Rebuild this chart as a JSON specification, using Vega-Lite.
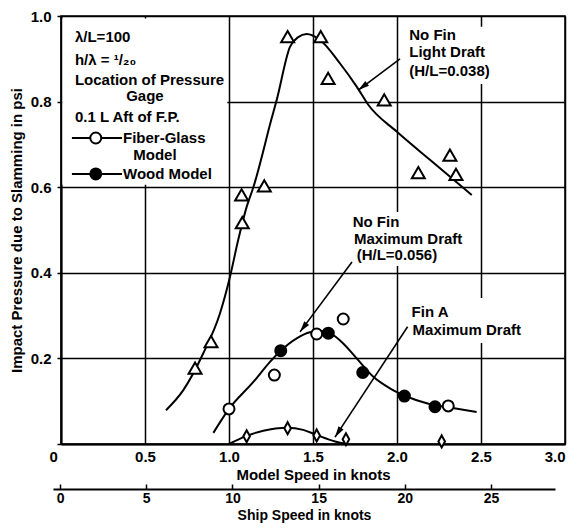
{
  "$schema": "https://vega.github.io/schema/vega-lite/v6.json",
  "width": 504,
  "height": 428,
  "autosize": "none",
  "padding": {"left": 61, "top": 16, "right": 14, "bottom": 85},
  "background": "white",
  "config": {
    "font": "Liberation Sans",
    "view": {"stroke": "black", "strokeWidth": 1.5},
    "axis": {
      "labelFont": "Liberation Sans",
      "labelFontSize": 15,
      "labelFontWeight": "bold",
      "labelColor": "black",
      "titleFont": "Liberation Sans",
      "titleFontSize": 15,
      "titleFontWeight": "bold",
      "titleColor": "black",
      "domainColor": "black",
      "tickColor": "black",
      "gridColor": "black",
      "gridOpacity": 1
    },
    "text": {"font": "Liberation Sans", "fontSize": 15, "fontWeight": "bold", "color": "black"}
  },
  "datasets": {
    "light_pts": [
      {"speed": 0.798, "psi": 0.177}, {"speed": 0.893, "psi": 0.239},
      {"speed": 1.075, "psi": 0.582}, {"speed": 1.079, "psi": 0.517},
      {"speed": 1.21, "psi": 0.603}, {"speed": 1.349, "psi": 0.952},
      {"speed": 1.546, "psi": 0.952}, {"speed": 1.59, "psi": 0.854},
      {"speed": 1.924, "psi": 0.804}, {"speed": 2.127, "psi": 0.634},
      {"speed": 2.315, "psi": 0.675}, {"speed": 2.351, "psi": 0.63}
    ],
    "light_curve": [
      {"speed": 0.625, "psi": 0.079}, {"speed": 0.728, "psi": 0.126},
      {"speed": 0.847, "psi": 0.212}, {"speed": 0.946, "psi": 0.305},
      {"speed": 1.006, "psi": 0.391}, {"speed": 1.055, "psi": 0.477},
      {"speed": 1.105, "psi": 0.554}, {"speed": 1.145, "psi": 0.6},
      {"speed": 1.254, "psi": 0.761}, {"speed": 1.284, "psi": 0.804},
      {"speed": 1.363, "psi": 0.928}, {"speed": 1.41, "psi": 0.95},
      {"speed": 1.462, "psi": 0.958}, {"speed": 1.542, "psi": 0.944},
      {"speed": 1.661, "psi": 0.889}, {"speed": 1.76, "psi": 0.835},
      {"speed": 1.83, "psi": 0.792}, {"speed": 1.998, "psi": 0.73},
      {"speed": 2.196, "psi": 0.664}, {"speed": 2.445, "psi": 0.582}
    ],
    "max_curve": [
      {"speed": 0.907, "psi": 0.026}, {"speed": 1.0, "psi": 0.082},
      {"speed": 1.145, "psi": 0.145}, {"speed": 1.244, "psi": 0.192},
      {"speed": 1.308, "psi": 0.218}, {"speed": 1.403, "psi": 0.247},
      {"speed": 1.482, "psi": 0.261}, {"speed": 1.55, "psi": 0.264},
      {"speed": 1.601, "psi": 0.259}, {"speed": 1.68, "psi": 0.235},
      {"speed": 1.76, "psi": 0.2}, {"speed": 1.859, "psi": 0.157},
      {"speed": 1.958, "psi": 0.13}, {"speed": 2.058, "psi": 0.111},
      {"speed": 2.177, "psi": 0.095}, {"speed": 2.305, "psi": 0.086},
      {"speed": 2.474, "psi": 0.075}
    ],
    "fiber": [
      {"speed": 1.0, "psi": 0.082}, {"speed": 1.27, "psi": 0.161},
      {"speed": 1.522, "psi": 0.257}, {"speed": 1.68, "psi": 0.292},
      {"speed": 2.305, "psi": 0.089}
    ],
    "wood": [
      {"speed": 1.308, "psi": 0.218}, {"speed": 1.591, "psi": 0.259},
      {"speed": 1.796, "psi": 0.167}, {"speed": 2.044, "psi": 0.112},
      {"speed": 2.226, "psi": 0.087}
    ],
    "fin_curve": [
      {"speed": 1.0, "psi": 0.0}, {"speed": 1.105, "psi": 0.019},
      {"speed": 1.204, "psi": 0.031}, {"speed": 1.343, "psi": 0.038},
      {"speed": 1.442, "psi": 0.033}, {"speed": 1.522, "psi": 0.021},
      {"speed": 1.631, "psi": 0.006}, {"speed": 1.7, "psi": 0.0}
    ],
    "fin_pts": [
      {"speed": 1.105, "psi": 0.018}, {"speed": 1.349, "psi": 0.037},
      {"speed": 1.522, "psi": 0.02}, {"speed": 1.696, "psi": 0.011},
      {"speed": 2.266, "psi": 0.006}
    ],
    "arrows": [
      {"id": "light", "x0": 2.018, "y0": 0.9, "x1": 1.77, "y1": 0.827},
      {"id": "max", "x0": 1.732, "y0": 0.425, "x1": 1.423, "y1": 0.262},
      {"id": "fin", "x0": 2.063, "y0": 0.274, "x1": 1.631, "y1": 0.016}
    ],
    "legend_keys": [
      {"kind": "Fiber-Glass Model", "x0": 0.065, "x1": 0.363, "mid": 0.207, "psi": 0.715},
      {"kind": "Wood Model", "x0": 0.065, "x1": 0.363, "mid": 0.207, "psi": 0.631}
    ],
    "boxes": [
      {"x0": 0.008, "x1": 0.99, "y0": 0.606, "y1": 0.994},
      {"x0": 2.05, "x1": 2.76, "y0": 0.841, "y1": 0.975},
      {"x0": 1.72, "x1": 2.446, "y0": 0.416, "y1": 0.542},
      {"x0": 2.065, "x1": 2.82, "y0": 0.236, "y1": 0.341}
    ],
    "notes": [
      {"speed": 0.083, "psi": 0.952, "text": "λ/L=100"},
      {"speed": 0.083, "psi": 0.897, "text": "h/λ = ¹/₂₀"},
      {"speed": 0.083, "psi": 0.85, "text": "Location of Pressure"},
      {"speed": 0.388, "psi": 0.814, "text": "Gage"},
      {"speed": 0.083, "psi": 0.765, "text": "0.1 L Aft of F.P."},
      {"speed": 0.369, "psi": 0.715, "text": "Fiber-Glass"},
      {"speed": 0.43, "psi": 0.675, "text": "Model"},
      {"speed": 0.369, "psi": 0.631, "text": "Wood Model"},
      {"speed": 2.073, "psi": 0.956, "text": "No Fin"},
      {"speed": 2.073, "psi": 0.917, "text": "Light Draft"},
      {"speed": 2.073, "psi": 0.872, "text": "(H/L=0.038)"},
      {"speed": 1.736, "psi": 0.518, "text": "No Fin"},
      {"speed": 1.744, "psi": 0.478, "text": "Maximum Draft"},
      {"speed": 1.76, "psi": 0.442, "text": "(H/L=0.056)"},
      {"speed": 2.087, "psi": 0.309, "text": "Fin A"},
      {"speed": 2.093, "psi": 0.266, "text": "Maximum Draft"}
    ],
    "ship": [{"ship": 0}, {"ship": 25}]
  },
  "layer": [
    {
      "layer": [
        {
          "data": {"name": "boxes"},
          "mark": {"type": "rect", "fill": "white", "stroke": null},
          "encoding": {
            "x": {
              "field": "x0", "type": "quantitative",
              "scale": {"domain": [0, 3], "nice": false, "zero": false},
              "axis": {
                "values": [0, 0.5, 1, 1.5, 2, 2.5, 3],
                "grid": true, "gridWidth": 1.5,
                "domainWidth": 2, "ticks": false,
                "labelPadding": 5,
                "labelExpr": "datum.value == 0 ? '0' : format(datum.value, '.1f')",
                "labelOffset": {"condition": {"test": "datum.value == 0", "value": -12}, "value": 0},
                "title": "Model Speed in knots", "titlePadding": 3
              }
            },
            "x2": {"field": "x1"},
            "y": {
              "field": "y0", "type": "quantitative",
              "scale": {"domain": [0, 1], "nice": false},
              "axis": {
                "values": [0, 0.2, 0.4, 0.6, 0.8, 1],
                "grid": true, "gridWidth": 1.5,
                "domainWidth": 2, "tickSize": 4, "tickWidth": 1.5,
                "labelPadding": 6,
                "labelExpr": "datum.value == 0 ? '' : format(datum.value, '.1f')",
                "title": "Impact Pressure due to Slamming in psi", "titlePadding": 6
              }
            },
            "y2": {"field": "y1"}
          }
        },
        {
          "data": {"name": "light_curve"},
          "mark": {"type": "line", "interpolate": "monotone", "color": "black", "strokeWidth": 2},
          "encoding": {
            "x": {"field": "speed", "type": "quantitative"},
            "y": {"field": "psi", "type": "quantitative"}
          }
        },
        {
          "data": {"name": "max_curve"},
          "mark": {"type": "line", "interpolate": "monotone", "color": "black", "strokeWidth": 2},
          "encoding": {
            "x": {"field": "speed", "type": "quantitative"},
            "y": {"field": "psi", "type": "quantitative"}
          }
        },
        {
          "data": {"name": "fin_curve"},
          "mark": {"type": "line", "interpolate": "monotone", "color": "black", "strokeWidth": 2},
          "encoding": {
            "x": {"field": "speed", "type": "quantitative"},
            "y": {"field": "psi", "type": "quantitative"}
          }
        },
        {
          "data": {"name": "arrows"},
          "mark": {"type": "rule", "color": "black", "strokeWidth": 1.6},
          "encoding": {
            "x": {"field": "x0", "type": "quantitative"},
            "x2": {"field": "x1"},
            "y": {"field": "y0", "type": "quantitative"},
            "y2": {"field": "y1"}
          }
        },
        {
          "data": {"name": "arrows"},
          "transform": [{"filter": "datum.id == 'light'"}],
          "mark": {"type": "point", "shape": "M0,0L0.55,2L-0.55,2Z", "size": 121, "filled": true, "color": "black", "opacity": 1, "angle": 233},
          "encoding": {
            "x": {"field": "x1", "type": "quantitative"},
            "y": {"field": "y1", "type": "quantitative"}
          }
        },
        {
          "data": {"name": "arrows"},
          "transform": [{"filter": "datum.id == 'max'"}],
          "mark": {"type": "point", "shape": "M0,0L0.55,2L-0.55,2Z", "size": 121, "filled": true, "color": "black", "opacity": 1, "angle": 217},
          "encoding": {
            "x": {"field": "x1", "type": "quantitative"},
            "y": {"field": "y1", "type": "quantitative"}
          }
        },
        {
          "data": {"name": "arrows"},
          "transform": [{"filter": "datum.id == 'fin'"}],
          "mark": {"type": "point", "shape": "M0,0L0.55,2L-0.55,2Z", "size": 121, "filled": true, "color": "black", "opacity": 1, "angle": 213},
          "encoding": {
            "x": {"field": "x1", "type": "quantitative"},
            "y": {"field": "y1", "type": "quantitative"}
          }
        },
        {
          "data": {"name": "light_pts"},
          "mark": {"type": "point", "shape": "triangle-up", "size": 169, "filled": true, "fill": "white", "stroke": "black", "strokeWidth": 2, "opacity": 1},
          "encoding": {
            "x": {"field": "speed", "type": "quantitative"},
            "y": {"field": "psi", "type": "quantitative"}
          }
        },
        {
          "data": {"name": "fiber"},
          "mark": {"type": "point", "shape": "circle", "size": 121, "filled": true, "fill": "white", "stroke": "black", "strokeWidth": 2, "opacity": 1},
          "encoding": {
            "x": {"field": "speed", "type": "quantitative"},
            "y": {"field": "psi", "type": "quantitative"}
          }
        },
        {
          "data": {"name": "wood"},
          "mark": {"type": "point", "shape": "circle", "size": 121, "filled": true, "fill": "black", "stroke": "black", "strokeWidth": 2, "opacity": 1},
          "encoding": {
            "x": {"field": "speed", "type": "quantitative"},
            "y": {"field": "psi", "type": "quantitative"}
          }
        },
        {
          "data": {"name": "fin_pts"},
          "mark": {"type": "point", "shape": "M0,-1L0.55,0L0,1L-0.55,0Z", "size": 144, "filled": true, "fill": "white", "stroke": "black", "strokeWidth": 2, "opacity": 1},
          "encoding": {
            "x": {"field": "speed", "type": "quantitative"},
            "y": {"field": "psi", "type": "quantitative"}
          }
        },
        {
          "data": {"name": "legend_keys"},
          "mark": {"type": "rule", "color": "black", "strokeWidth": 2},
          "encoding": {
            "x": {"field": "x0", "type": "quantitative"},
            "x2": {"field": "x1"},
            "y": {"field": "psi", "type": "quantitative"}
          }
        },
        {
          "data": {"name": "legend_keys"},
          "transform": [{"filter": "datum.kind == 'Fiber-Glass Model'"}],
          "mark": {"type": "point", "shape": "circle", "size": 121, "filled": true, "fill": "white", "stroke": "black", "strokeWidth": 2, "opacity": 1},
          "encoding": {
            "x": {"field": "mid", "type": "quantitative"},
            "y": {"field": "psi", "type": "quantitative"}
          }
        },
        {
          "data": {"name": "legend_keys"},
          "transform": [{"filter": "datum.kind == 'Wood Model'"}],
          "mark": {"type": "point", "shape": "circle", "size": 121, "filled": true, "fill": "black", "stroke": "black", "strokeWidth": 2, "opacity": 1},
          "encoding": {
            "x": {"field": "mid", "type": "quantitative"},
            "y": {"field": "psi", "type": "quantitative"}
          }
        },
        {
          "data": {"name": "notes"},
          "mark": {"type": "text", "align": "left", "baseline": "middle"},
          "encoding": {
            "x": {"field": "speed", "type": "quantitative"},
            "y": {"field": "psi", "type": "quantitative"},
            "text": {"field": "text"}
          }
        }
      ]
    },
    {
      "data": {"name": "ship"},
      "mark": {"type": "point", "opacity": 0},
      "encoding": {
        "x": {
          "field": "ship", "type": "quantitative",
          "scale": {"domain": [-0.41, 28.71], "range": [-8, 494], "nice": false, "zero": false},
          "axis": {
            "orient": "bottom", "offset": 45,
            "values": [0, 5, 10, 15, 20, 25], "format": "d",
            "grid": false, "domainWidth": 2,
            "tickSize": -5, "tickWidth": 1.5,
            "labelPadding": 7, "labelFontSize": 14,
            "title": "Ship Speed in knots", "titleFontSize": 14, "titlePadding": 3
          }
        }
      }
    }
  ],
  "resolve": {"scale": {"x": "independent"}}
}
